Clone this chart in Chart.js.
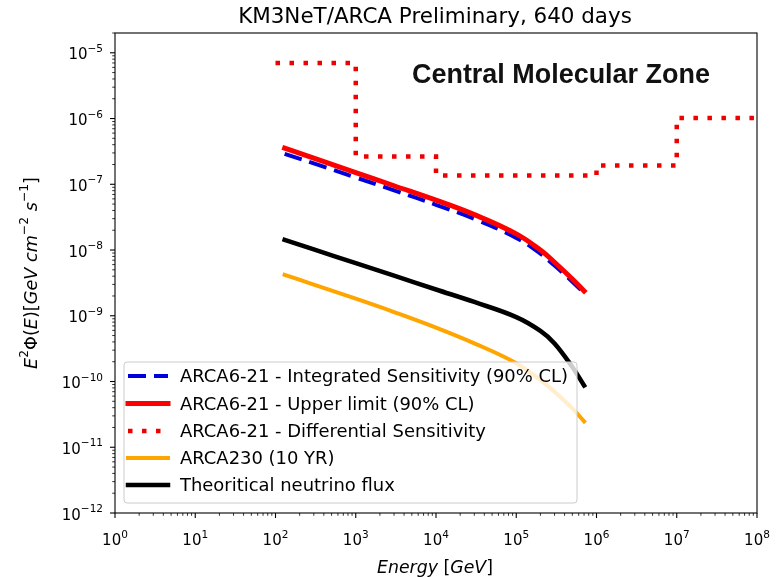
<!DOCTYPE html>
<html><head><meta charset="utf-8">
<script src="https://cdn.jsdelivr.net/npm/chart.js@4.4.0/dist/chart.umd.min.js"></script>
<style>html,body{margin:0;padding:0;background:#fff;}canvas{display:block;}</style>
</head><body>
<canvas id="c" width="783" height="577"></canvas>
<script>
// ---- data ----
const energy = [130, 300, 1e3, 3e3, 1e4, 3e4, 1e5, 2e5, 3e5, 5e5, 7e5];
const integratedSensitivity = [2.91e-7, 2.08e-7, 1.27e-7, 8.09e-8, 4.88e-8, 2.98e-8, 1.53e-8, 8.79e-9, 5.81e-9, 3.30e-9, 2.22e-9];
const upperLimit = [3.55e-7, 2.50e-7, 1.51e-7, 9.5e-8, 5.73e-8, 3.46e-8, 1.76e-8, 9.98e-9, 6.52e-9, 3.62e-9, 2.38e-9];
const diffEnergy = [1e2, 1e3, 1e4, 1e6, 1e7, 1e8];
const diffSensitivity = [7.0e-6, 2.65e-7, 1.36e-7, 1.93e-7, 1.02e-6, 1.02e-6];
const arca230 = [4.20e-9, 2.98e-9, 1.82e-9, 1.14e-9, 6.61e-10, 3.81e-10, 1.90e-10, 1.05e-10, 7.01e-11, 3.90e-11, 2.48e-11];
const theoFlux = [1.43e-8, 1.02e-8, 6.31e-9, 4.07e-9, 2.51e-9, 1.62e-9, 9.55e-10, 5.89e-10, 3.80e-10, 1.66e-10, 8.7e-11];
const seriesNames = [
  'ARCA6-21 - Integrated Sensitivity (90% CL)',
  'ARCA6-21 - Upper limit (90% CL)',
  'ARCA6-21 - Differential Sensitivity',
  'ARCA230 (10 YR)',
  'Theoritical neutrino flux'
];
const xTickExponents = [0, 1, 2, 3, 4, 5, 6, 7, 8];
const yTickExponents = [-12, -11, -10, -9, -8, -7, -6, -5];
const titleText = 'KM3NeT/ARCA Preliminary, 640 days';
const annotationText = 'Central Molecular Zone';

const FONT = '"DejaVu Sans"';
const pts = (xs, ys) => xs.map((x, i) => ({x: x, y: ys[i]}));

function runFont(r, base) {
  const s = r.sup ? base * 0.7 : base;
  return (r.italic ? 'italic ' : '') + s.toFixed(2) + 'px ' + FONT;
}
function runsWidth(ctx, runs, base) {
  let w = 0;
  for (const r of runs) { ctx.font = runFont(r, base); w += ctx.measureText(r.t).width; }
  return w;
}
function drawRuns(ctx, runs, x, y, base, align) {
  const w = runsWidth(ctx, runs, base);
  let cx = align === 'center' ? x - w / 2 : (align === 'right' ? x - w : x);
  ctx.textAlign = 'left';
  ctx.textBaseline = 'alphabetic';
  for (const r of runs) {
    ctx.font = runFont(r, base);
    ctx.fillText(r.t, cx, r.sup ? y - base * 0.5 : y);
    cx += ctx.measureText(r.t).width;
  }
}
function fitSize(ctx, fontFn, text, width) {
  ctx.font = fontFn(100);
  return 100 * width / ctx.measureText(text).width;
}

const decor = {
  id: 'decor',
  afterDatasetsDraw(chart) {
    const ctx = chart.ctx;
    const ds = chart.data.datasets;
    // legend box
    const bx = 124, by = 362, bw = 453, bh = 141, rr = 3;
    ctx.save();
    ctx.beginPath();
    ctx.moveTo(bx + rr, by); ctx.lineTo(bx + bw - rr, by); ctx.quadraticCurveTo(bx + bw, by, bx + bw, by + rr);
    ctx.lineTo(bx + bw, by + bh - rr); ctx.quadraticCurveTo(bx + bw, by + bh, bx + bw - rr, by + bh);
    ctx.lineTo(bx + rr, by + bh); ctx.quadraticCurveTo(bx, by + bh, bx, by + bh - rr);
    ctx.lineTo(bx, by + rr); ctx.quadraticCurveTo(bx, by, bx + rr, by);
    ctx.closePath();
    ctx.fillStyle = 'rgba(255,255,255,0.8)';
    ctx.fill();
    ctx.strokeStyle = '#cccccc';
    ctx.lineWidth = 1;
    ctx.stroke();
    const lsize = fitSize(ctx, s => s + 'px ' + FONT, seriesNames[0], 388);
    const rowsY = [376, 403.5, 431, 458, 485];
    [0, 1, 2, 3, 4].forEach((k, i) => {
      const d = ds[k];
      const yy = rowsY[i];
      ctx.beginPath();
      ctx.setLineDash(d.borderDash || []);
      ctx.lineDashOffset = 0;
      ctx.lineCap = d.borderCapStyle || 'butt';
      ctx.strokeStyle = d.borderColor;
      ctx.lineWidth = d.borderWidth;
      ctx.moveTo(128, yy); ctx.lineTo(168, yy);
      ctx.stroke();
      ctx.setLineDash([]);
      ctx.fillStyle = '#000';
      ctx.font = lsize.toFixed(2) + 'px ' + FONT;
      ctx.textAlign = 'left';
      ctx.textBaseline = 'alphabetic';
      ctx.fillText(d.label, 180, yy + lsize * 0.36);
    });
    ctx.restore();
  },
  afterDraw(chart) {
    const ctx = chart.ctx;
    const a = chart.chartArea;
    const xs = chart.scales.x, ys = chart.scales.y;
    ctx.save();
    // spines
    ctx.strokeStyle = '#000';
    ctx.lineWidth = 1.1;
    ctx.strokeRect(a.left, a.top, a.right - a.left, a.bottom - a.top);
    // ticks (major + minor) positioned by the library's scales
    for (let e = 0; e <= 8; e++) {
      for (let m = 1; m <= 9; m++) {
        const v = m * Math.pow(10, e);
        if (v > xs.max) break;
        const px = xs.getPixelForValue(v);
        const len = m === 1 ? 5 : 2.8;
        ctx.lineWidth = m === 1 ? 1.1 : 0.8;
        ctx.beginPath(); ctx.moveTo(px, a.bottom); ctx.lineTo(px, a.bottom + len); ctx.stroke();
      }
    }
    for (let e = -12; e <= -5; e++) {
      for (let m = 1; m <= 9; m++) {
        const v = m * Math.pow(10, e);
        if (v > ys.max) break;
        const py = ys.getPixelForValue(v);
        const len = m === 1 ? 5 : 2.8;
        ctx.lineWidth = m === 1 ? 1.1 : 0.8;
        ctx.beginPath(); ctx.moveTo(a.left, py); ctx.lineTo(a.left - len, py); ctx.stroke();
      }
    }
    // tick labels
    ctx.fillStyle = '#000';
    const tsize = 15;
    xTickExponents.forEach(e => {
      const px = xs.getPixelForValue(Math.pow(10, e));
      drawRuns(ctx, [{t: '10'}, {t: String(e), sup: true}], px, 545, tsize, 'center');
    });
    yTickExponents.forEach(e => {
      const py = ys.getPixelForValue(Math.pow(10, e));
      drawRuns(ctx, [{t: '10'}, {t: '\u2212' + String(-e), sup: true}], 103, py + 6.5, tsize, 'right');
    });
    // title
    const ts = fitSize(ctx, s => s + 'px ' + FONT, titleText, 394);
    ctx.font = ts.toFixed(2) + 'px ' + FONT;
    ctx.textAlign = 'center';
    ctx.textBaseline = 'alphabetic';
    ctx.fillText(titleText, 435, 23);
    // annotation
    const as = fitSize(ctx, s => 'bold ' + s + 'px "Liberation Sans"', annotationText, 298);
    ctx.font = 'bold ' + as.toFixed(2) + 'px "Liberation Sans"';
    ctx.textAlign = 'left';
    ctx.fillStyle = '#111';
    ctx.fillText(annotationText, 412, 83);
    ctx.fillStyle = '#000';
    // x axis label
    const xRuns = [{t: 'Energy', italic: true}, {t: ' ['}, {t: 'GeV', italic: true}, {t: ']'}];
    const xb = 16 * 116 / runsWidth(ctx, xRuns, 16);
    drawRuns(ctx, xRuns, 435, 573, xb, 'center');
    // y axis label
    const yRuns = [{t: 'E', italic: true}, {t: '2', sup: true}, {t: '\u03A6('}, {t: 'E', italic: true}, {t: ')['},
      {t: 'GeV', italic: true}, {t: ' '}, {t: 'cm', italic: true}, {t: '\u22122', sup: true}, {t: ' '},
      {t: 's', italic: true}, {t: '\u22121', sup: true}, {t: ']'}];
    const yb = 16 * 192 / runsWidth(ctx, yRuns, 16);
    ctx.translate(37, 273);
    ctx.rotate(-Math.PI / 2);
    drawRuns(ctx, yRuns, 0, 0, yb, 'center');
    ctx.restore();
  }
};

new Chart(document.getElementById('c').getContext('2d'), {
  type: 'line',
  data: {
    datasets: [
      {label: seriesNames[0], data: pts(energy, integratedSensitivity), borderColor: '#0000dd', borderWidth: 4,
        borderDash: [18, 8], borderCapStyle: 'butt', tension: 0.4, order: 5},
      {label: seriesNames[1], data: pts(energy, upperLimit), borderColor: '#ff0000', borderWidth: 5,
        borderCapStyle: 'square', tension: 0.4, order: 4},
      {label: seriesNames[2], data: pts(diffEnergy, diffSensitivity), borderColor: '#ee0000', borderWidth: 4.5,
        borderDash: [4.5, 9.5], borderCapStyle: 'butt', stepped: true, order: 3},
      {label: seriesNames[3], data: pts(energy, arca230), borderColor: '#ffa500', borderWidth: 4,
        borderCapStyle: 'square', tension: 0.4, order: 2},
      {label: seriesNames[4], data: pts(energy, theoFlux), borderColor: '#000000', borderWidth: 4.5,
        borderCapStyle: 'square', tension: 0.4, order: 1}
    ]
  },
  options: {
    responsive: false,
    animation: false,
    layout: {padding: {left: 115, right: 26, top: 33, bottom: 64}},
    scales: {
      x: {type: 'logarithmic', min: 1, max: 1e8, display: false},
      y: {type: 'logarithmic', min: 1e-12, max: 2e-5, display: false}
    },
    elements: {point: {radius: 0}, line: {fill: false}},
    plugins: {legend: {display: false}, tooltip: {enabled: false}, title: {display: false}}
  },
  plugins: [decor]
});
</script>
</body></html>
